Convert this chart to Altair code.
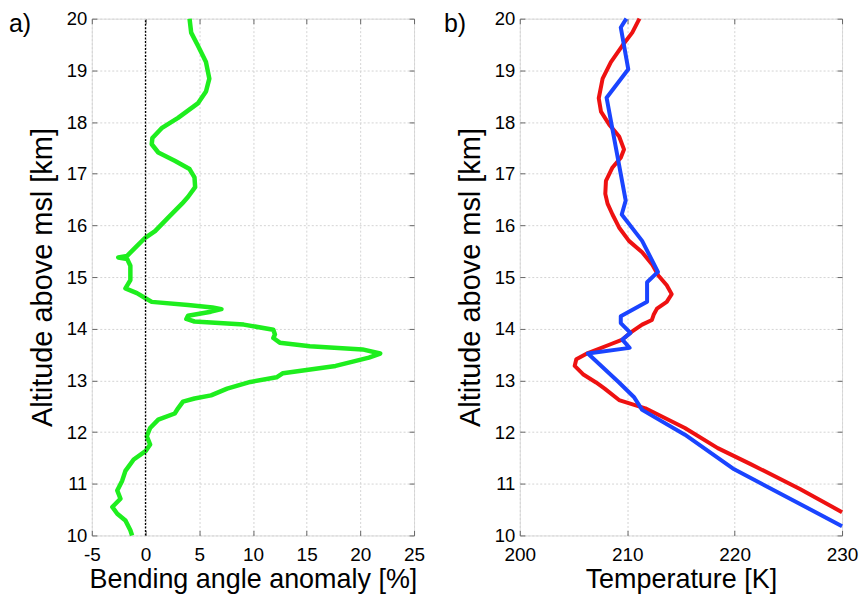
import altair as alt
import pandas as pd

# Panel a) bending angle anomaly profile (altitude km, anomaly %)
ba_alt = [20.0, 19.73, 19.48, 19.16, 18.84, 18.59, 18.36, 18.08, 17.88, 17.69, 17.57, 17.41,
          17.25, 17.09, 16.93, 16.74, 16.55, 16.42, 16.15, 15.89, 15.76, 15.57, 15.41, 15.38,
          15.35, 15.22, 14.94, 14.78, 14.69, 14.59, 14.52, 14.46, 14.41, 14.38, 14.33, 14.25,
          14.19, 14.14, 14.08, 13.98, 13.89, 13.82, 13.73, 13.66, 13.60, 13.52, 13.44, 13.28,
          13.14, 13.06, 12.97, 12.84, 12.71, 12.65, 12.59, 12.46, 12.36, 12.24, 12.08, 11.92,
          11.76, 11.63, 11.47, 11.25, 11.06, 10.87, 10.71, 10.55, 10.42, 10.29, 10.10, 10.0]
ba_val = [4.1, 4.25, 4.87, 5.63, 5.94, 5.63, 4.87, 3.03, 1.5, 0.64, 0.58, 1.19,
          2.72, 4.1, 4.56, 4.62, 3.95, 3.4, 2.11, 0.89, -0.03, -0.95, -1.71, -2.54,
          -1.71, -1.41, -1.41, -1.87, -0.8, 0.0, 0.58, 3.95, 6.24, 7.07, 6.09, 3.95,
          3.8, 4.56, 9.15, 11.9, 12.05, 11.9, 12.5, 15.3, 20.2, 21.85, 20.8, 17.7,
          12.8, 12.2, 9.76, 7.6, 6.1, 4.56, 3.49, 3.03, 2.72, 1.19, 0.43, 0.12,
          0.43, 0.0, -1.1, -1.87, -2.17, -2.63, -2.33, -3.09, -2.63, -1.87, -1.41, -1.25]

# Panel b) temperature profiles (altitude km, temperature K)
red_alt = [20.0, 19.73, 19.48, 19.16, 18.84, 18.46, 18.20, 17.95, 17.72, 17.47, 17.31, 17.12,
           16.86, 16.61, 16.42, 16.21, 15.96, 15.70, 15.48, 15.25, 15.03, 14.84, 14.67, 14.52,
           14.39, 14.27, 14.17, 14.08, 13.95, 13.79, 13.69, 13.53, 13.41, 13.28, 13.12, 12.96,
           12.84, 12.62, 12.46, 12.08, 11.69, 11.38, 10.9, 10.45]
red_t = [211.14, 210.47, 209.55, 208.48, 207.71, 207.35, 207.56, 208.33, 209.25, 209.7, 209.4, 208.63,
         208.02, 207.96, 208.17, 208.63, 209.24, 210.16, 211.39, 212.3, 212.9, 213.68, 214.14, 213.68,
         212.77, 212.46, 212.3, 211.39, 210.47, 209.55, 208.33, 206.34, 205.26, 205.11, 205.88, 207.1,
         207.9, 209.24, 211.69, 215.37, 218.43, 221.49, 226.08, 230.0]
blue_alt = [20.0, 19.83, 19.02, 18.47, 16.48, 16.21, 15.70, 15.10, 14.90, 14.52, 14.24, 14.11,
            13.92, 13.79, 13.63, 13.52, 12.96, 12.68, 12.43, 11.95, 11.28, 10.18]
blue_t = [209.92, 209.4, 210.1, 208.08, 209.86, 209.49, 211.39, 212.86, 211.85, 211.85, 209.4, 209.4,
          210.3, 209.55, 210.22, 206.34, 209.24, 210.62, 211.39, 215.37, 219.96, 230.0]

alt_ticks = list(range(10, 21))
alt_range = [10, 20]
ba_ticks = [-5, 0, 5, 10, 15, 20, 25]
t_ticks = [200, 210, 220, 230]
panel_labels = ["a)", "b)"]

FONT = "Liberation Sans"
W, H = 323, 518
TICK = "#666666"


def yaxis():
    return alt.Axis(values=alt_ticks, title="Altitude above msl [km]", grid=True,
                    gridDash=[2, 2], gridColor="#d4d4d4", ticks=True, tickSize=5,
                    tickColor=TICK, offset=-5, domain=False,
                    labelFontSize=18.5, titleFontSize=29, labelFont=FONT, titleFont=FONT,
                    titleFontWeight="normal", labelColor="black", titleColor="black",
                    labelPadding=5, titlePadding=9)


def xaxis(title, vals):
    return alt.Axis(values=vals, title=title, grid=True, gridDash=[2, 2], gridColor="#d4d4d4",
                    ticks=True, tickSize=5, tickColor=TICK, offset=-5,
                    domain=False, labelFontSize=19, titleFontSize=27,
                    labelFont=FONT, titleFont=FONT, titleFontWeight="normal",
                    labelColor="black", titleColor="black", labelPadding=10, titlePadding=2,
                    labelFlush=False, labelExpr="datum.value + ''")


def side_axis(orient, vals):
    return alt.Axis(orient=orient, values=vals, title=None, labels=False, grid=False,
                    ticks=True, tickSize=5, tickColor=TICK, offset=-5, domain=False)


ysc = alt.Scale(domain=alt_range, nice=False, zero=False)
xsc_a = alt.Scale(domain=[ba_ticks[0], ba_ticks[-1]], nice=False, zero=False)
xsc_b = alt.Scale(domain=[t_ticks[0], t_ticks[-1]], nice=False, zero=False)

dfg = pd.DataFrame({"alt": ba_alt, "val": ba_val, "i": range(len(ba_alt))})
green = alt.Chart(dfg).mark_line(color="#1eee1e", strokeWidth=4.5, strokeJoin="round").encode(
    x=alt.X("val:Q", scale=xsc_a, axis=xaxis("Bending angle anomaly [%]", ba_ticks)),
    y=alt.Y("alt:Q", scale=ysc, axis=yaxis()),
    order="i:Q",
)
zero = alt.Chart(pd.DataFrame({"x": [0], "y0": [alt_range[0]], "y1": [alt_range[1]]})).mark_rule(
    color="black", strokeDash=[2, 1.5], strokeWidth=1.3).encode(
    x=alt.X("x:Q", scale=xsc_a, axis=side_axis("top", ba_ticks)),
    y=alt.Y("y0:Q", scale=ysc, axis=side_axis("right", alt_ticks)),
    y2="y1:Q")
lab_a = alt.Chart(pd.DataFrame({"t": [panel_labels[0]]})).mark_text(
    fontSize=25, font=FONT, align="left", baseline="middle", color="black").encode(
    text="t:N", x=alt.value(-83), y=alt.value(5))
left = alt.layer(green, zero, lab_a).resolve_axis(x="independent", y="independent").properties(
    width=W, height=H)

dfr = pd.DataFrame({"alt": red_alt, "t": red_t, "i": range(len(red_alt))})
dfb = pd.DataFrame({"alt": blue_alt, "t": blue_t, "i": range(len(blue_alt))})
red = alt.Chart(dfr).mark_line(color="#ee1111", strokeWidth=4, strokeJoin="round").encode(
    x=alt.X("t:Q", scale=xsc_b, axis=xaxis("Temperature [K]", t_ticks)),
    y=alt.Y("alt:Q", scale=ysc, axis=yaxis()), order="i:Q")
blue = alt.Chart(dfb).mark_line(color="#1a44ff", strokeWidth=4, strokeJoin="round").encode(
    x=alt.X("t:Q", scale=xsc_b, axis=side_axis("top", t_ticks)),
    y=alt.Y("alt:Q", scale=ysc, axis=side_axis("right", alt_ticks)), order="i:Q")
lab_b = alt.Chart(pd.DataFrame({"t": [panel_labels[1]]})).mark_text(
    fontSize=25, font=FONT, align="left", baseline="middle", color="black").encode(
    text="t:N", x=alt.value(-76), y=alt.value(5))
right = alt.layer(red, blue, lab_b).resolve_axis(x="independent", y="independent").properties(
    width=W, height=H)

chart = alt.hconcat(left, right, spacing=17).configure_view(
    stroke="#555555", strokeWidth=1.5).configure(padding=0).properties(background="white")

chart.save("out.html", embed_options={"renderer": "svg", "actions": False})
